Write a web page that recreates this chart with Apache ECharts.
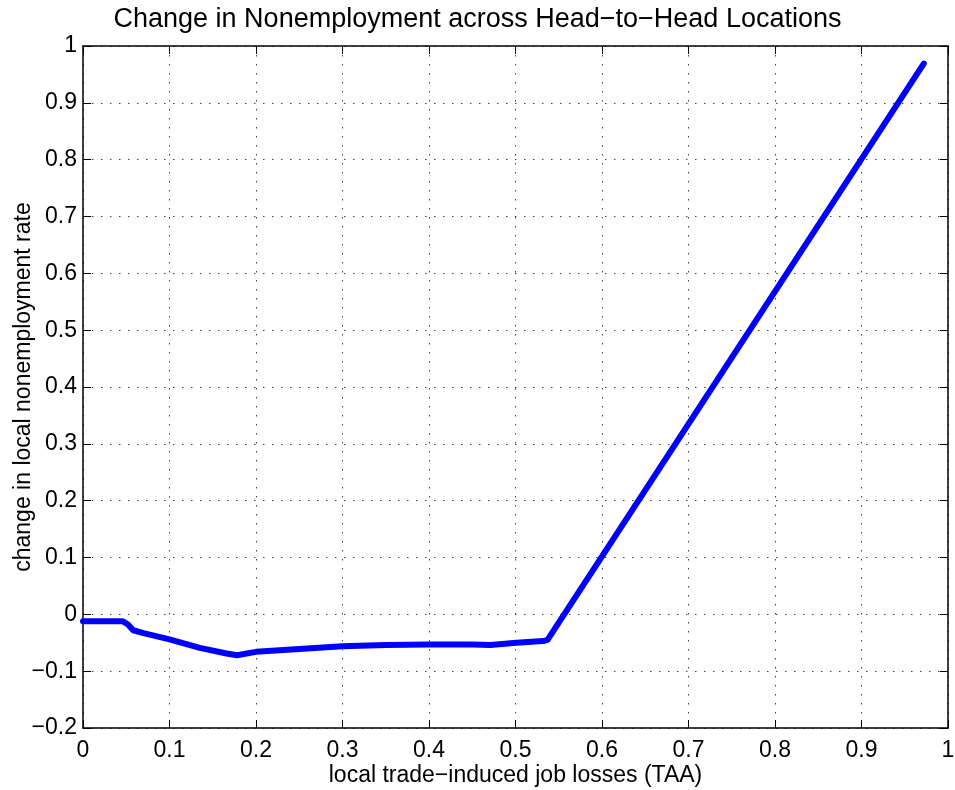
<!DOCTYPE html>
<html>
<head>
<meta charset="utf-8">
<script src="https://cdn.jsdelivr.net/npm/echarts@6/dist/echarts.min.js"></script>
<style>
html,body{margin:0;padding:0;background:#fff;}
#chart{width:955px;height:790px;}
</style>
</head>
<body>
<div id="chart"></div>
<script>
const titleText = 'Change in Nonemployment across Head\u2212to\u2212Head Locations';
const xLabel = 'local trade\u2212induced job losses (TAA)';
const yLabel = 'change in local nonemployment rate';
const jobLosses = [0, 0.02, 0.046, 0.052, 0.058, 0.07, 0.1, 0.135, 0.166, 0.178, 0.2, 0.25, 0.3, 0.35, 0.4, 0.45, 0.471, 0.501, 0.532, 0.537, 0.972];
const nonempChange = [-0.012, -0.012, -0.012, -0.018, -0.028, -0.033, -0.044, -0.059, -0.069, -0.072, -0.066, -0.061, -0.056, -0.054, -0.053, -0.053, -0.054, -0.050, -0.047, -0.045, 0.969];

const FONT = '"Liberation Sans", Arial, Helvetica, sans-serif';
function fmt(v){
  let s = String(Math.round(v*10)/10);
  return s.replace('-', '\u2212');
}
const points = jobLosses.map((x,i)=>[x, nonempChange[i]]);
const chart = echarts.init(document.getElementById('chart'), null, {renderer:'canvas'});
const axisLineStyle = {color:'#000', width:1.5};
const tickStyle = {show:true, inside:true, length:8, lineStyle:{color:'#000', width:1}};
const gridLine = {show:true, lineStyle:{color:'#444', width:1, type:[1.5,7.5]}};
chart.setOption({
  animation:false,
  backgroundColor:'#fff',
  title:{text:titleText, left:'center', top:1, textStyle:{fontFamily:FONT, fontSize:27, fontWeight:'normal', color:'#000'}},
  grid:{left:83, right:7, top:46, bottom:62, containLabel:false, outerBoundsMode:'none'},
  xAxis:[
    {type:'value', min:0, max:1, interval:0.1, position:'bottom',
     name:xLabel, nameLocation:'middle', nameGap:36, nameMoveOverlap:false,
     nameTextStyle:{fontFamily:FONT, fontSize:23, color:'#000'},
     axisLine:{show:true, onZero:false, lineStyle:axisLineStyle},
     axisTick:tickStyle,
     axisLabel:{formatter:fmt, fontFamily:FONT, fontSize:23, color:'#000', margin:11},
     splitLine:gridLine},
    {type:'value', min:0, max:1, interval:0.1, position:'top',
     axisLine:{show:true, onZero:false, lineStyle:axisLineStyle},
     axisTick:tickStyle, axisLabel:{show:false}, splitLine:{show:false}}
  ],
  yAxis:[
    {type:'value', min:-0.2, max:1, interval:0.1, position:'left',
     name:yLabel, nameLocation:'middle', nameGap:48, nameRotate:90, nameMoveOverlap:false,
     nameTextStyle:{fontFamily:FONT, fontSize:23, color:'#000'},
     axisLine:{show:true, onZero:false, lineStyle:axisLineStyle},
     axisTick:tickStyle,
     axisLabel:{formatter:fmt, fontFamily:FONT, fontSize:23, color:'#000', margin:6},
     splitLine:gridLine},
    {type:'value', min:-0.2, max:1, interval:0.1, position:'right',
     axisLine:{show:true, onZero:false, lineStyle:axisLineStyle},
     axisTick:tickStyle, axisLabel:{show:false}, splitLine:{show:false}}
  ],
  series:[{
    type:'line', data:points, xAxisIndex:0, yAxisIndex:0,
    showSymbol:false, symbol:'none', smooth:false,
    lineStyle:{color:'#0000ff', width:6, cap:'round', join:'round'}
  }]
});
</script>
</body>
</html>
